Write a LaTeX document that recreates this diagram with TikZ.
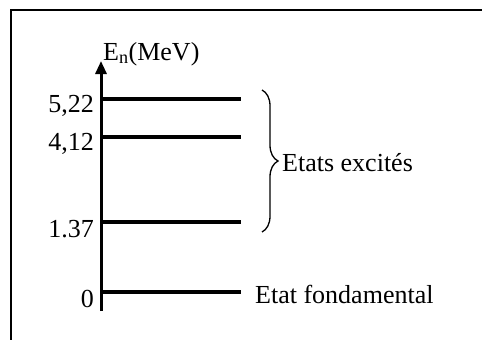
\documentclass[tikz,border=0pt]{standalone}
\usepackage{fontspec}
\setmainfont{Liberation Serif}
\usetikzlibrary{decorations.pathreplacing,arrows.meta}
\begin{document}
\begin{tikzpicture}[x=1pt,y=-1pt,
  level/.style={line width=3.5pt},
  lab/.style={font=\fontsize{26}{30}\selectfont, inner sep=0pt},
  frame/.style={line width=2pt}]
\useasboundingbox (0,0) rectangle (482,340);
% frame
\coordinate (f1) at (11,345);
\coordinate (f2) at (11,10);
\coordinate (f3) at (490,10);
\draw[frame] (f1) -- (f2) -- (f3);
% axis
\coordinate (ab) at (101,311);
\coordinate (at) at (101,61);
\draw[line width=3pt,-{Triangle[width=11pt,length=13pt]}] (ab) -- (at);
\node[lab, anchor=south west] (en) at (103,66) {E\textsubscript{n}(MeV)};
% levels
\foreach \n/\y/\t in {a/99/{5,22}, b/137/{4,12}, c/222/{1.37}, d/292/{0}} {
  \coordinate (\n0) at (101,\y);
  \coordinate (\n1) at (241,\y);
  \draw[level] (\n0) -- (\n1);
  \node[lab, anchor=east] (l\n) at (94,\y+7) {\t};
}
% brace
\coordinate (b1) at (262,90);
\coordinate (b2) at (262,232);
\draw[line width=1.3pt, decorate, decoration={brace, amplitude=16pt}] (b1) -- (b2);
\node[lab, anchor=west] (exc) at (282,163) {Etats excités};
\node[lab, anchor=west] (fond) at (255,294) {Etat fondamental};
\end{tikzpicture}
\end{document}
